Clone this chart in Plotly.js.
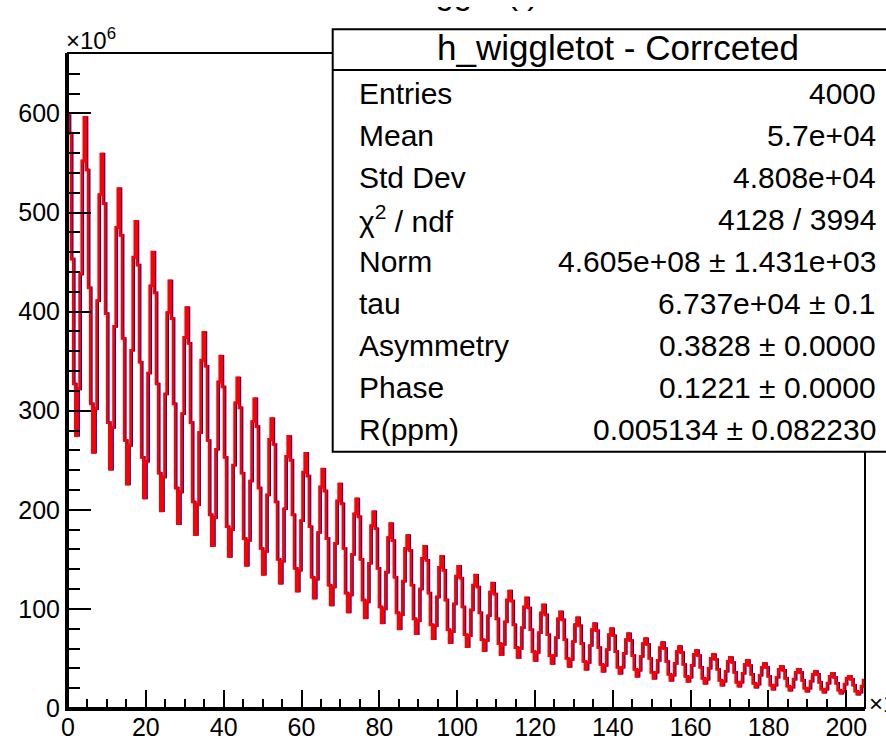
<!DOCTYPE html>
<html><head><meta charset="utf-8">
<script src="https://cdn.plot.ly/plotly-3.0.1.min.js"></script>
<style>html,body{margin:0;padding:0;background:#fff;}#chart{width:886px;height:740px;}</style>
</head><body><div id="chart"></div>
<script>
// Counts per bin (x10^6), bins of equal width starting at t = 0 (x10^3 ns)
const wiggleCounts = [
598,580,453,327,275,322,438,552,
596,543,424,307,258,302,411,518,
559,509,398,288,241,283,385,485,
524,477,373,270,226,265,361,455,
491,447,349,253,212,249,338,426,
460,419,327,237,199,233,317,399,
431,393,307,222,186,218,297,374,
404,368,288,208,175,205,278,351,
379,345,270,195,164,192,261,329,
355,324,253,183,153,180,245,308,
333,303,237,171,144,169,229,289,
312,284,222,161,135,158,215,271,
292,266,208,150,126,148,201,254,
274,250,195,141,118,139,189,238,
257,234,183,132,111,130,177,223,
241,219,171,124,104,122,166,209,
226,206,161,116,97,114,155,196,
211,193,150,109,91,107,146,184,
198,181,141,102,86,100,137,172,
186,169,132,96,80,94,128,161,
174,159,124,90,75,88,120,151,
163,149,116,84,70,83,112,142,
153,139,109,79,66,77,105,133,
143,131,102,74,62,73,99,124,
134,122,96,69,58,68,93,117,
126,115,90,65,54,64,87,109,
118,108,84,61,51,60,81,102,
111,101,79,57,48,56,76,96,
104,94,74,53,45,53,71,90,
97,89,69,50,42,49,67,84,
91,83,65,47,39,46,63,79,
85,78,61,44,37,43,59,74,
80,73,57,41,35,41,55,69,
75,68,53,39,32,38,52,65,
70,64,50,36,30,36,48,61,
66,60,47,34,28,33,45,57,
62,56,44,32,27,31,43,54,
58,53,41,30,25,29,40,50,
54,49,39,28,23,27,37,47,
51,46,36,26,22,26,35,44,
48,43,34,25,21,24,33,41,
45,41,32,23,19,23,31,39,
42,38,30,22,18,21,29,36,
39,36,28,20,17,20,27,34,
37,34,26,19,16,19,25,32,
35,31,25,18,15,17,24,30,
32,29,23,17,14,16,22,28
];
const binStart = 0;
const binWidth = 0.5456;
const xRange = [0, 204.8];
const yRange = [0, 661];
const xTickVals = [0,20,40,60,80,100,120,140,160,180,200];
const yTickVals = [0,100,200,300,400,500,600];
const histTitle = 'Wiggle (t)';
const statsTitle = 'h_wiggletot - Corrceted';
const statLabels = ['Entries','Mean','Std Dev','\u03c7<sup>2</sup> / ndf','Norm','tau','Asymmetry','Phase','R(ppm)'];
const statValues = ['4000','5.7e+04','4.808e+04','4128 / 3994','4.605e+08 \u00b1 1.431e+03','6.737e+04 \u00b1 0.1','0.3828 \u00b1 0.0000','0.1221 \u00b1 0.0000','0.005134 \u00b1 0.082230'];

// pixel geometry of the frame
const L = 68, R = 865, T = 53, B = 708;
const fx = x => (x - L) / (R - L);
const fy = y => (B - y) / (B - T);
const FONT = 'Liberation Sans, Arial, Helvetica, sans-serif';

const traces = [
  {type:'scatter', mode:'lines', x0:binStart, dx:binWidth, y:wiggleCounts,
   line:{color:'#00009c', width:2.5, shape:'hv', simplify:false}, hoverinfo:'skip'},
  {type:'scatter', mode:'lines', x0:binStart, dx:binWidth, y:wiggleCounts,
   line:{color:'#ff0000', width:2.8, shape:'hvh', simplify:false}, hoverinfo:'skip'}
];

// stats box: its right side runs past the edge of the picture
const box = {x0:332.7, x1:895, y0:29.3, y1:451.7, sep:70};
const shapes = [
  {type:'rect', xref:'paper', yref:'paper', x0:0, x1:1, y0:0, y1:1, line:{color:'black', width:2}, layer:'above'},
  {type:'rect', xref:'paper', yref:'paper', x0:fx(box.x0), x1:fx(box.x1), y0:fy(box.y1), y1:fy(box.y0),
   fillcolor:'white', line:{color:'black', width:2}, layer:'above'},
  {type:'line', xref:'paper', yref:'paper', x0:fx(box.x0), x1:fx(box.x1), y0:fy(box.sep), y1:fy(box.sep),
   line:{color:'black', width:2}, layer:'above'}
];

const annotations = [];
annotations.push({xref:'paper', yref:'paper', x:fx(618), y:fy(47), xanchor:'center', yanchor:'middle',
  text:statsTitle, showarrow:false, font:{family:FONT, size:35, color:'black'}});
statLabels.forEach((lab, i) => {
  const yc = 93.8 + 41.9 * i;
  annotations.push({xref:'paper', yref:'paper', x:fx(357), y:fy(yc), xanchor:'left', yanchor:'middle',
    text:lab, showarrow:false, font:{family:FONT, size:30, color:'black'}});
  annotations.push({xref:'paper', yref:'paper', x:fx(878), y:fy(yc), xanchor:'right', yanchor:'middle',
    text:statValues[i], showarrow:false, font:{family:FONT, size:30, color:'black'}});
});
annotations.push({xref:'paper', yref:'paper', x:fx(467), y:fy(-8), xanchor:'center', yanchor:'middle',
  text:histTitle, showarrow:false, font:{family:FONT, size:33, color:'black'}});
// the top of the title lies above the picture: only its lowest parts show below a white band
annotations.push({xref:'paper', yref:'paper', x:fx(467), y:fy(0), xanchor:'center', yanchor:'top',
  text:' ', width:220, height:7, bgcolor:'white', borderpad:0, borderwidth:0, showarrow:false,
  font:{family:FONT, size:4, color:'white'}});
annotations.push({xref:'paper', yref:'paper', x:fx(64), y:fy(56), xanchor:'left', yanchor:'bottom',
  text:'\u00d710<sup>6</sup>', showarrow:false, font:{family:FONT, size:24, color:'black'}});
annotations.push({xref:'paper', yref:'paper', x:fx(867), y:fy(702), xanchor:'left', yanchor:'middle',
  text:'\u00d710<sup>3</sup>', showarrow:false, font:{family:FONT, size:24, color:'black'}});

const layout = {
  width:886, height:740,
  margin:{l:L, r:886-R, t:T, b:740-B, pad:0},
  paper_bgcolor:'white', plot_bgcolor:'white',
  showlegend:false,
  xaxis:{range:xRange, tickvals:xTickVals, ticktext:xTickVals.map(String),
    ticks:'inside', ticklen:18, tickwidth:2, tickcolor:'black', ticklabelstandoff:-5,
    minor:{dtick:5, tick0:0, ticks:'inside', ticklen:9, tickwidth:2, tickcolor:'black', showgrid:false},
    showline:true, linewidth:3, linecolor:'black', showgrid:false, zeroline:false,
    tickfont:{family:FONT, size:25, color:'black'}, fixedrange:true},
  yaxis:{range:yRange, tickvals:yTickVals, ticktext:yTickVals.map(String),
    ticks:'inside', ticklen:23, tickwidth:2, tickcolor:'black',
    minor:{dtick:20, tick0:0, ticks:'inside', ticklen:12, tickwidth:2, tickcolor:'black', showgrid:false},
    showline:true, linewidth:3, linecolor:'black', showgrid:false, zeroline:false,
    tickfont:{family:FONT, size:25, color:'black'}, fixedrange:true},
  shapes:shapes,
  annotations:annotations
};

Plotly.newPlot('chart', traces, layout, {staticPlot:true, displayModeBar:false});
</script>
</body></html>
